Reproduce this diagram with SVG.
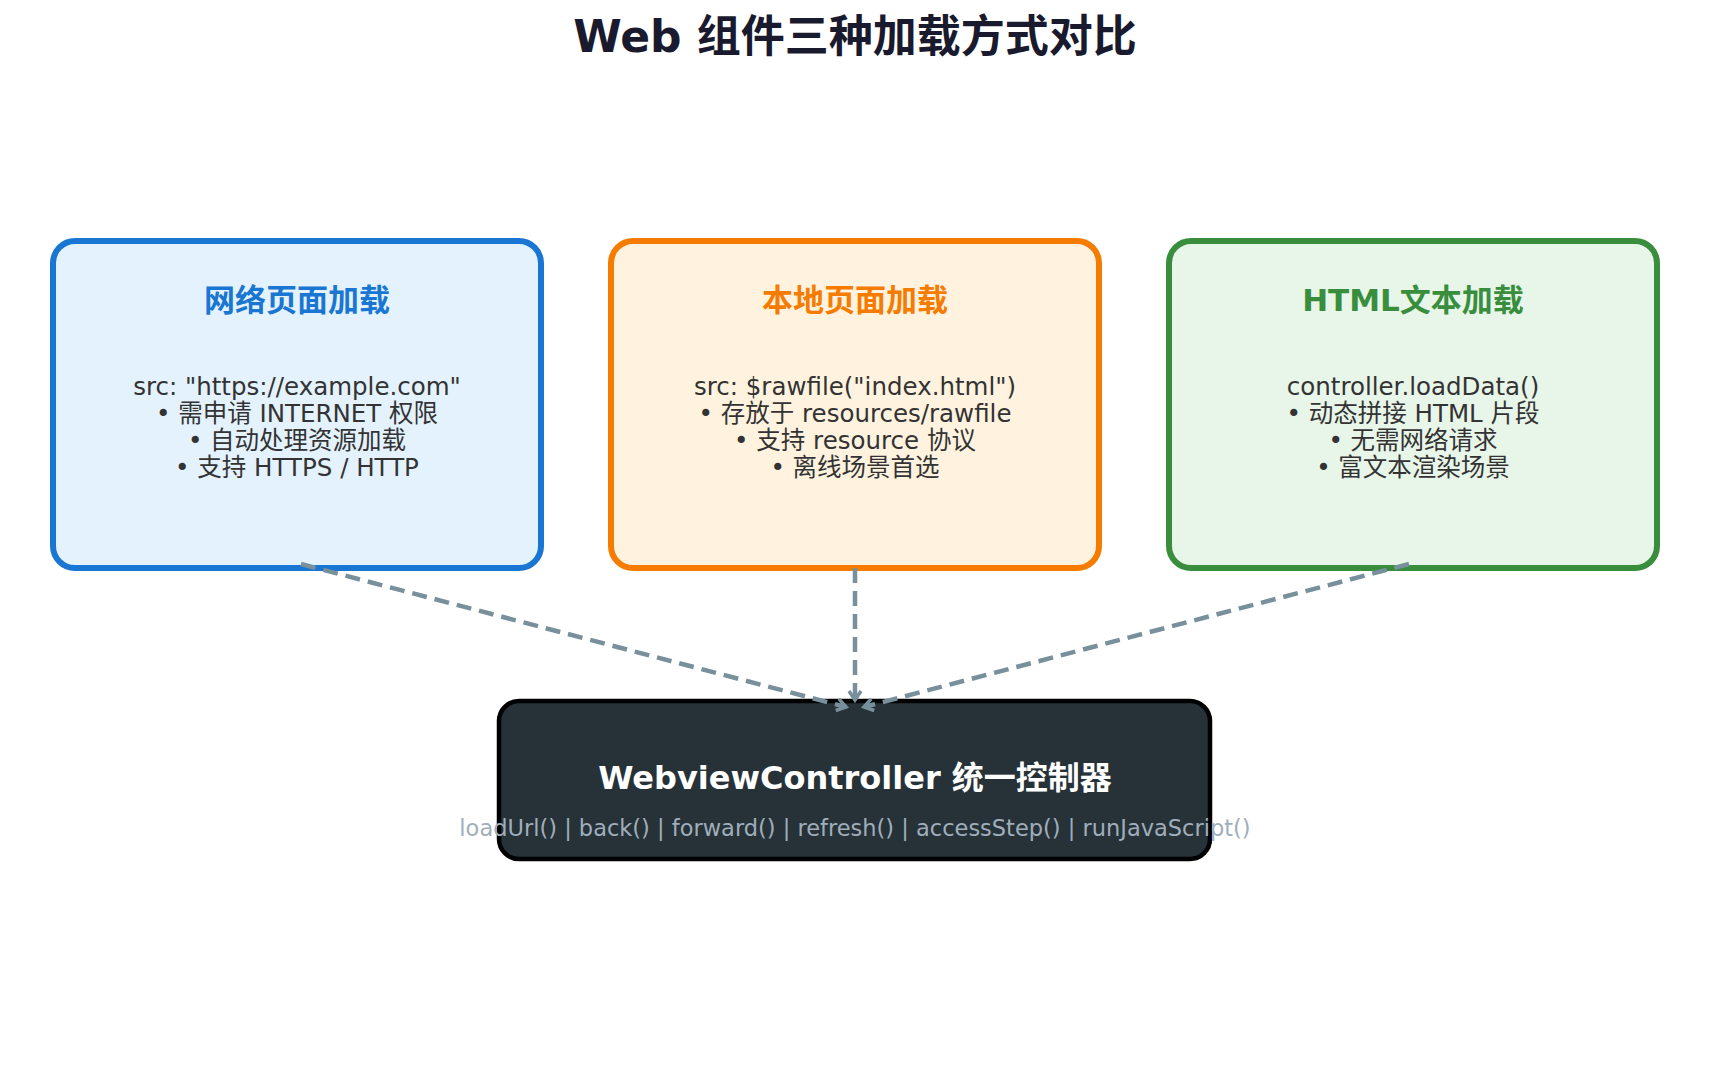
<svg xmlns="http://www.w3.org/2000/svg" width="1710" height="1090" viewBox="0 0 1710 1090">
<style>
.t{font-family:"DejaVu Sans","Noto Sans CJK SC",sans-serif;text-anchor:middle}
.h{font-size:31px;font-weight:bold}
.b{font-size:24.5px;fill:#333}
.c{fill:none;stroke:#78909c;stroke-width:4.5;stroke-dasharray:15 8}
</style>
<defs><marker id="a" markerWidth="16" markerHeight="16" refX="12" refY="8" orient="auto" markerUnits="userSpaceOnUse"><path d="M3,2 L12,8 L3,14" fill="none" stroke="#78909c" stroke-width="3.5"/></marker></defs>
<rect width="1710" height="1090" fill="#fff"/>
<text class="t" x="855" y="52" font-size="44" font-weight="bold" fill="#1a1a2e">Web 组件三种加载方式对比</text>
<g id="n1"><rect x="53" y="241" width="488" height="327" rx="22" fill="#e3f2fd" stroke="#1976d2" stroke-width="6"/>
<text class="t h" x="297" y="311" fill="#1976d2">网络页面加载</text>
<text class="t b" x="297" y="395">src: "https://example.com"</text><text class="t b" x="297" y="422">• 需申请 INTERNET 权限</text><text class="t b" x="297" y="449">• 自动处理资源加载</text><text class="t b" x="297" y="476">• 支持 HTTPS / HTTP</text></g>
<g id="n2"><rect x="611" y="241" width="488" height="327" rx="22" fill="#fff3e0" stroke="#f57c00" stroke-width="6"/>
<text class="t h" x="855" y="311" fill="#f57c00">本地页面加载</text>
<text class="t b" x="855" y="395">src: $rawfile("index.html")</text><text class="t b" x="855" y="422">• 存放于 resources/rawfile</text><text class="t b" x="855" y="449">• 支持 resource 协议</text><text class="t b" x="855" y="476">• 离线场景首选</text></g>
<g id="n3"><rect x="1169" y="241" width="488" height="327" rx="22" fill="#e8f5e9" stroke="#388e3c" stroke-width="6"/>
<text class="t h" x="1413" y="311" fill="#388e3c">HTML文本加载</text>
<text class="t b" x="1413" y="395">controller.loadData()</text><text class="t b" x="1413" y="422">• 动态拼接 HTML 片段</text><text class="t b" x="1413" y="449">• 无需网络请求</text><text class="t b" x="1413" y="476">• 富文本渲染场景</text></g>
<g id="n4"><rect x="499" y="701" width="711" height="158" rx="20" fill="#263238" stroke="#000" stroke-width="4.5"/>
<text class="t" x="855" y="789" font-size="32" font-weight="bold" fill="#fff">WebviewController 统一控制器</text>
<text class="t" x="855" y="836" font-size="22.5" fill="#a0aebb">loadUrl() | back() | forward() | refresh() | accessStep() | runJavaScript()</text></g>
<g id="connectors">
<path class="c" d="M301,564 L846,707" marker-end="url(#a)"/>
<path class="c" d="M855,568 L855,700" marker-end="url(#a)"/>
<path class="c" d="M1409,564 L864,707" marker-end="url(#a)"/>
</g>
</svg>
